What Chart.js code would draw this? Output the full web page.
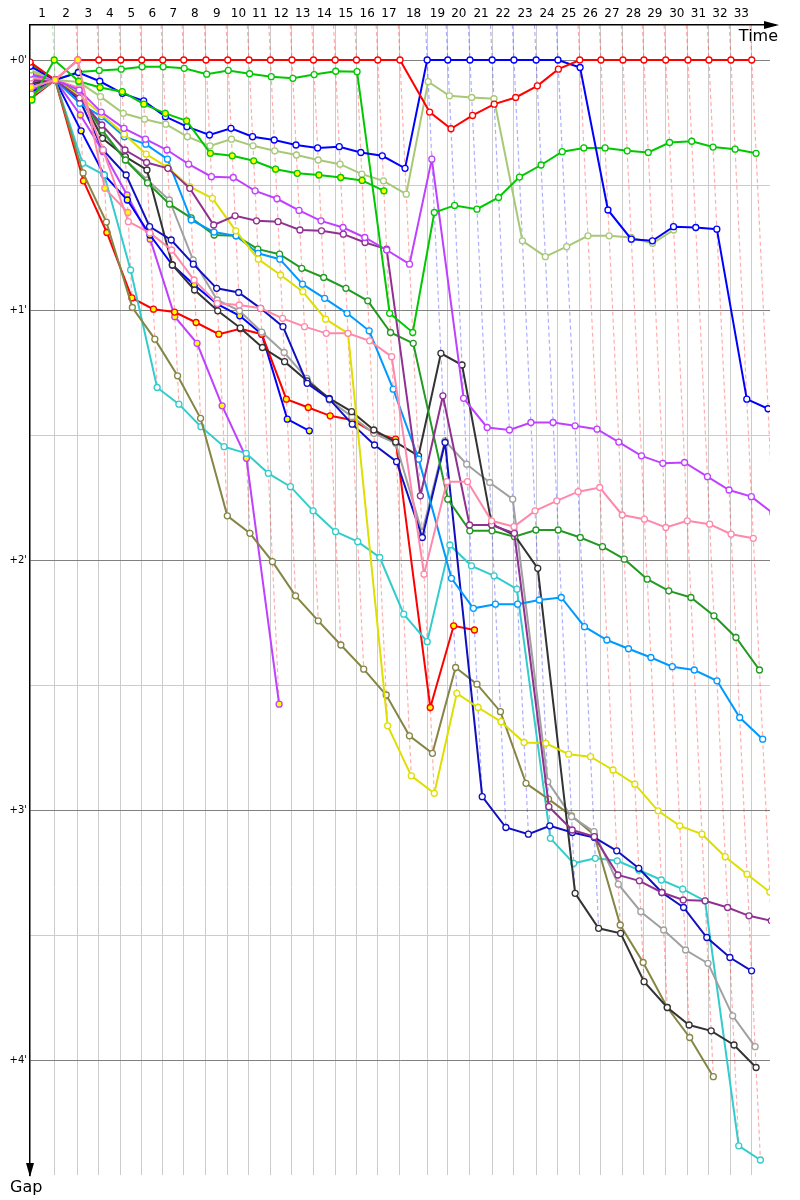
<!DOCTYPE html>
<html>
<head>
<meta charset="utf-8">
<script src="https://cdn.jsdelivr.net/npm/chart.js@4.4.1/dist/chart.umd.min.js"></script>
<style>
  html, body { margin: 0; padding: 0; background: #fff; }
  #wrap { width: 800px; height: 1200px; }
</style>
</head>
<body>
<div id="wrap"><canvas id="gapChart" width="800" height="1200"></canvas></div>
<script>
// leader's lap times in seconds (lap 1 .. 33)
const leaderLapTimes = [124.1, 121.0, 107.7, 112.8, 107.7, 107.7, 107.7, 113.8, 111.8, 108.7,
    110.3, 110.3, 110.3, 111.3, 109.2, 109.2, 113.8, 139.5, 105.6, 113.8,
    113.8, 111.8, 113.8, 111.8, 111.8, 108.7, 112.8, 107.7, 111.8, 113.8,
    107.7, 112.8, 106.7];

const lapLabels = ['1', '2', '3', '4', '5', '6', '7', '8', '9', '10', '11', '12', '13', '14', '15', '16', '17',
    '18', '19', '20', '21', '22', '23', '24', '25', '26', '27', '28', '29', '30', '31', '32', '33'];

const gapTicks = [0, 30, 60, 90, 120, 150, 180, 210, 240];

// gap to leader in seconds, index = lap (0 = start)
const gapRed = [0.5, 4.8, 0, 0, 0, 0, 0, 0, 0, 0, 0, 0, 0, 0, 0, 0, 0, 0,
    12.5, 16.5, 13.3, 10.6, 9.0, 6.2, 2.2, 0, 0, 0, 0, 0, 0, 0, 0, 0];
const gapRedB = [9.1, 4.8, 29.0, 41.4, 57.1, 59.8, 60.5, 63.0, 65.8, 64.5, 65.8, 81.4, 83.4, 85.4, 86.4,
    89.4, 91.0, 155.4, 135.8, 136.8];
const gapBlue = [1.5, 4.8, 3.0, 5.1, 8.0, 9.8, 13.6, 16.0, 18.0, 16.4, 18.4, 19.2, 20.4, 21.1, 20.8, 22.2,
    23.0, 26.0, 0, 0, 0, 0, 0, 0, 0, 1.8, 36.0, 43.0, 43.4, 40.0, 40.2, 40.6, 81.4, 83.7];
const gapBlueB = [7.7, 4.8, 17.0, 27.6, 33.6, 42.0, 49.2, 54.0, 58.6, 61.4, 65.8, 86.2, 89.0];
const gapGreen = [1.0, 4.8, 2.9, 2.5, 2.2, 1.6, 1.6, 2.0, 3.4, 2.5, 3.3, 4.0, 4.4, 3.5, 2.7, 2.8, 60.8,
    65.4, 36.6, 34.9, 35.8, 33.0, 28.1, 25.2, 22.0, 21.1, 21.1, 21.8, 22.2, 19.8, 19.5, 20.9, 21.4, 22.4];
const gapGreenB = [9.6, 0, 5.1, 6.6, 7.6, 10.6, 12.8, 14.6, 22.4, 23.0, 24.2, 26.2, 27.2, 27.6, 28.2,
    28.9, 31.4];
const gapLime = [2.4, 4.8, 5.3, 8.8, 12.8, 14.2, 15.4, 18.4, 20.6, 19.0, 20.6, 21.8, 22.8, 24.0, 25.0,
    27.4, 29.0, 32.2, 5.2, 8.6, 9.0, 9.3, 43.4, 47.2, 44.8, 42.2, 42.2, 42.6, 44.0, 40.8];
const gapViolet = [3.4, 4.8, 7.2, 12.5, 16.4, 19.0, 21.6, 25.0, 28.0, 28.2, 31.4, 33.3, 36.1, 38.6, 40.2,
    42.6, 45.6, 49.0, 23.8, 81.2, 88.2, 88.8, 87.0, 87.0, 87.8, 88.6, 91.7, 95.0, 96.8, 96.6, 100.0,
    103.2, 104.8, 108.8];
const gapVioletB = [7.2, 4.8, 13.2, 22.0, 32.4, 43.0, 61.6, 68.0, 83.0, 95.6, 154.6];
const gapPink = [4.3, 4.8, 6.7, 21.6, 38.8, 41.5, 45.6, 52.8, 58.4, 58.8, 59.6, 62.0, 64.0, 65.6, 65.6,
    67.4, 71.2, 123.4, 101.2, 101.2, 110.6, 112.0, 108.2, 105.8, 103.6, 102.6, 109.2, 110.2, 112.2,
    110.6, 111.4, 113.8, 114.8];
const gapPinkB = [6.5, 4.8, 0, 30.8, 36.6];
const gapPlum = [5.0, 4.8, 9.1, 15.6, 21.6, 24.6, 26.0, 30.8, 39.6, 37.4, 38.6, 38.8, 40.8, 41.0, 41.8,
    43.8, 45.4, 104.6, 80.6, 111.6, 111.6, 113.6, 179.2, 184.8, 186.4, 195.6, 197.0, 199.8, 201.6,
    201.8, 203.4, 205.4, 206.6];
const gapYellow = [2.9, 4.8, 8.6, 13.0, 17.8, 22.6, 25.8, 30.4, 33.2, 41.0, 47.8, 51.6, 55.6, 62.2, 65.6,
    159.8, 171.8, 176.0, 152.0, 155.4, 158.8, 163.8, 164.0, 166.6, 167.2, 170.4, 173.8, 180.2, 183.8,
    185.8, 191.2, 195.4, 199.7];
const gapSky = [3.8, 4.8, 10.4, 13.6, 18.4, 20.2, 23.8, 38.4, 41.3, 42.2, 46.4, 47.8, 53.8, 57.2, 60.8,
    65.0, 79.0, 95.8, 124.4, 131.6, 130.6, 130.6, 129.6, 129.0, 136.0, 139.2, 141.3, 143.4, 145.6,
    146.4, 149.0, 157.8, 163.0];
const gapForest = [4.6, 4.8, 8.4, 16.8, 24.0, 29.5, 34.6, 37.9, 42.0, 42.2, 45.4, 46.6, 50.0, 52.2, 54.8,
    57.8, 65.4, 68.0, 105.4, 113.0, 113.0, 114.4, 112.8, 112.8, 114.6, 116.8, 119.8, 124.6, 127.4,
    129.0, 133.4, 138.6, 146.4];
const gapNavy = [6.2, 4.8, 9.6, 21.6, 27.6, 40.0, 43.2, 49.0, 54.8, 55.8, 59.6, 64.0, 77.6, 81.4, 87.4,
    92.4, 96.4, 114.6, 91.8, 176.8, 184.2, 185.8, 183.8, 185.4, 186.6, 189.8, 194.0, 199.8, 203.4,
    210.6, 215.4, 218.6];
const gapBlack = [5.5, 4.8, 8.4, 18.8, 23.2, 26.4, 49.2, 55.2, 60.2, 64.3, 69.0, 72.4, 77.0, 81.2, 84.4,
    88.8, 91.7, 95.0, 70.4, 73.2, 111.4, 114.0, 122.0, 200.0, 208.4, 209.6, 221.2, 227.4, 231.6,
    233.0, 236.4, 241.8];
const gapGrey = [5.8, 4.8, 7.9, 17.3, 24.0, 28.8, 33.6, 48.0, 57.6, 60.2, 65.3, 70.2, 76.4, 81.6, 85.6,
    89.6, 92.0, 113.4, 91.4, 97.0, 101.4, 105.4, 173.2, 181.6, 185.2, 197.8, 204.4, 208.8, 213.6,
    216.8, 229.4, 236.8];
const gapOlive = [8.2, 4.8, 27.1, 38.9, 59.4, 67.0, 75.8, 86.0, 109.4, 113.6, 120.4, 128.6, 134.6, 140.4,
    146.2, 152.4, 162.2, 166.4, 145.8, 149.8, 156.4, 173.6, 177.4, 181.4, 186.0, 207.6, 216.6, 227.4,
    234.6, 244.0];
const gapCyan = [8.6, 4.8, 24.8, 27.6, 50.4, 78.6, 82.6, 88.0, 92.8, 94.4, 99.2, 102.4, 108.2, 113.2,
    115.6, 119.4, 133.0, 139.6, 116.4, 121.4, 123.8, 127.0, 186.8, 192.8, 191.6, 192.2, 194.4, 196.8,
    199.0, 201.8, 260.6, 264.0];

// axis ranges (s)
const X_MAX = 3795;
const Y_MIN = -8.4;
const Y_MAX = 267.6;

const WHITE = '#ffffff';
const YELLOW = '#ffff00';

// first entries are drawn on top
const drivers = [
    { gaps: gapPinkB, color: '#ff88aa', fill: YELLOW },
    { gaps: gapGreenB, color: '#00c800', fill: YELLOW },
    { gaps: gapRed, color: '#ff0000', fill: WHITE },
    { gaps: gapBlue, color: '#0000ff', fill: WHITE },
    { gaps: gapGreen, color: '#00c800', fill: WHITE },
    { gaps: gapLime, color: '#a8c878', fill: WHITE },
    { gaps: gapViolet, color: '#c040ff', fill: WHITE },
    { gaps: gapPink, color: '#ff88aa', fill: WHITE },
    { gaps: gapPlum, color: '#903090', fill: WHITE },
    { gaps: gapYellow, color: '#dede00', fill: WHITE },
    { gaps: gapSky, color: '#0099ff', fill: WHITE },
    { gaps: gapForest, color: '#229922', fill: WHITE },
    { gaps: gapNavy, color: '#1010c0', fill: WHITE },
    { gaps: gapBlack, color: '#333333', fill: WHITE },
    { gaps: gapGrey, color: '#a0a0a0', fill: WHITE },
    { gaps: gapOlive, color: '#858545', fill: WHITE },
    { gaps: gapCyan, color: '#33cccc', fill: WHITE },
    { gaps: gapRedB, color: '#ff0000', fill: YELLOW },
    { gaps: gapBlueB, color: '#0000ff', fill: YELLOW },
    { gaps: gapVioletB, color: '#c040ff', fill: YELLOW }
];

// leader's elapsed time at the end of each lap
const leaderTime = [0];
leaderLapTimes.forEach((t, i) => leaderTime.push(leaderTime[i] + t));

function fade(hex, a) {
    const n = parseInt(hex.slice(1), 16);
    return 'rgba(' + (n >> 16) + ',' + ((n >> 8) & 255) + ',' + (n & 255) + ',' + a + ')';
}

const datasets = drivers.map(d => ({
    data: d.gaps.map((g, lap) => ({ x: leaderTime[lap] + g, y: g })),
    showLine: true,
    borderColor: d.color,
    borderWidth: 2,
    pointRadius: 3,
    pointBorderWidth: 1.3,
    pointBorderColor: d.color,
    pointBackgroundColor: d.fill,
    order: 1
}));

// dashed line per lap, coloured by that lap's leader, down to the last car on the lap
for (let lap = 1; lap < leaderTime.length; lap++) {
    let maxGap = 0, minGap = Infinity, leader = null;
    drivers.forEach(d => {
        const g = d.gaps[lap];
        if (g === undefined) return;
        if (g > maxGap) maxGap = g;
        if (g < minGap || (g === minGap && d.fill === WHITE && leader.fill !== WHITE)) { minGap = g; leader = d; }
    });
    datasets.push({
        data: [{ x: leaderTime[lap] + Y_MIN, y: Y_MIN }, { x: leaderTime[lap] + maxGap, y: maxGap }],
        showLine: true,
        borderColor: fade(leader.color, 0.32),
        borderWidth: 1.2,
        borderDash: [4, 3],
        pointRadius: 0,
        order: 10
    });
}

const axisArrows = {
    id: 'axisArrows',
    afterDraw(chart) {
        const { ctx, chartArea: a } = chart;
        ctx.save();
        ctx.strokeStyle = '#000';
        ctx.fillStyle = '#000';
        ctx.lineWidth = 1.5;
        ctx.beginPath();
        ctx.moveTo(a.right, a.top);
        ctx.lineTo(776, a.top);
        ctx.stroke();
        ctx.beginPath();
        ctx.moveTo(779, a.top);
        ctx.lineTo(764, a.top - 4);
        ctx.lineTo(764, a.top + 4);
        ctx.closePath();
        ctx.fill();
        ctx.beginPath();
        ctx.moveTo(a.left, a.bottom - 12);
        ctx.lineTo(a.left + 4, a.bottom - 12);
        ctx.lineTo(a.left, a.bottom + 2);
        ctx.lineTo(a.left - 4, a.bottom - 12);
        ctx.closePath();
        ctx.fill();
        ctx.font = '16px "DejaVu Sans", sans-serif';
        ctx.textBaseline = 'alphabetic';
        ctx.textAlign = 'right';
        ctx.fillText('Time', 778, a.top + 16);
        ctx.textAlign = 'left';
        ctx.fillText('Gap', 10, a.bottom + 17);
        ctx.restore();
    }
};

new Chart(document.getElementById('gapChart'), {
    type: 'scatter',
    data: { datasets },
    plugins: [axisArrows],
    options: {
        responsive: false,
        animation: false,
        events: [],
        layout: { padding: { left: 0, right: 30, top: 0, bottom: 25 } },
        plugins: { legend: { display: false }, tooltip: { enabled: false } },
        elements: { line: { tension: 0 } },
        scales: {
            x: {
                type: 'linear',
                position: 'top',
                min: 0,
                max: X_MAX,
                afterFit: s => { s.height = 0; },
                afterBuildTicks: s => { s.ticks = leaderTime.slice(1).map(v => ({ value: v })); },
                ticks: { display: false },
                grid: { color: '#cccccc', lineWidth: 1, drawTicks: false },
                border: { display: false }
            },
            lap: {
                type: 'linear',
                position: 'top',
                min: 0,
                max: X_MAX,
                afterFit: s => { s.height = 25; },
                afterBuildTicks: s => {
                    s.ticks = lapLabels.map((l, i) => ({ value: (leaderTime[i] + leaderTime[i + 1]) / 2 }));
                },
                ticks: {
                    autoSkip: false,
                    maxRotation: 0,
                    padding: 4,
                    color: '#000',
                    font: { family: 'DejaVu Sans', size: 12 },
                    callback: (v, i) => lapLabels[i]
                },
                grid: { display: false, drawTicks: false },
                border: { color: '#000', width: 1.5 }
            },
            y: {
                type: 'linear',
                reverse: true,
                min: Y_MIN,
                max: Y_MAX,
                afterFit: s => { s.width = 30; },
                afterBuildTicks: s => { s.ticks = gapTicks.map(v => ({ value: v })); },
                ticks: {
                    autoSkip: false,
                    padding: 3,
                    color: '#000',
                    font: { family: 'DejaVu Sans', size: 10 },
                    callback: v => (v % 60 === 0 ? '+' + (v / 60) + "'" : '')
                },
                grid: {
                    drawTicks: false,
                    color: c => (c.tick && c.tick.value % 60 === 0 ? '#808080' : '#cccccc')
                },
                border: { color: '#000', width: 1.5 }
            }
        }
    }
});
</script>
</body>
</html>
